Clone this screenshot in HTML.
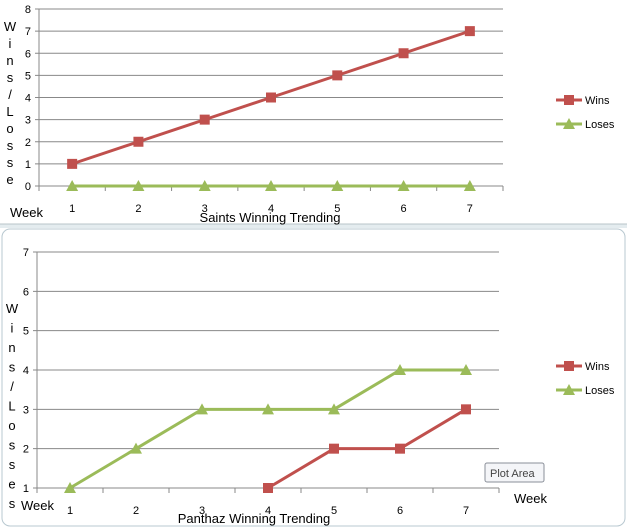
<!DOCTYPE html>
<html><head><meta charset="utf-8"><style>
body{margin:0;width:627px;height:528px;overflow:hidden;background:#fff;font-family:"Liberation Sans",sans-serif}
svg{display:block}
text{font-family:"Liberation Sans",sans-serif}
</style></head><body>
<svg id="s" width="627" height="528">
<rect x="0" y="224" width="627" height="4" fill="#e4ecef"/>
<line x1="0" y1="224" x2="627" y2="224" stroke="#b8c4c8"/>
<rect x="2" y="229" width="623" height="297" rx="8" fill="#fff" stroke="#b8c8d0"/>
<text x="305" y="226" font-size="6" fill="#888">····</text>
</svg>
<script>
const weeks=[1,2,3,4,5,6,7];
const saintsWins=[1,2,3,4,5,6,7];
const saintsLoses=[0,0,0,0,0,0,0];
const saintsTicks=[0,1,2,3,4,5,6,7,8];
const panWins=[null,null,null,1,2,2,3];
const panLoses=[1,2,3,3,3,4,4];
const panTicks=[1,2,3,4,5,6,7];
const NS='http://www.w3.org/2000/svg';
const svg=document.getElementById('s');
function mk(t,a,p){const e=document.createElementNS(NS,t);for(const k in a)e.setAttribute(k,a[k]);(p||svg).appendChild(e);return e;}
function chart(o){
  const g=mk('g',{});
  
  
  const n=weeks.length, cw=(o.x1-o.x0)/n;
  const X=i=>o.x0+cw*(i+0.5);
  const Y=v=>o.yb-(v-o.min)/(o.max-o.min)*(o.yb-o.yt);
  o.ticks.forEach(t=>{
    const l=mk('line',{x1:o.x0-4,x2:o.x1,y1:Y(t),y2:Y(t),stroke:'#888','stroke-width':1},g);
    
    
    const tx=mk('text',{x:o.x0-8,y:Y(t)+4,'font-size':11,'text-anchor':'end',fill:'#000'},g);
    tx.textContent=t;
    
    
  });
  const ax=mk('line',{x1:o.x0,x2:o.x0,y1:o.yt,y2:o.yb,stroke:'#888'},g);
  
  
  for(let i=0;i<=n;i++){const tk=mk('line',{x1:o.x0+cw*i,x2:o.x0+cw*i,y1:o.yb,y2:o.yb+5,stroke:'#888'},g);
    
    }
  weeks.forEach((w,i)=>{const t=mk('text',{x:X(i),y:o.yb+o.lblOff,'font-size':11,'text-anchor':'middle'},g);t.textContent=w;
    
    });
  function series(vals,col,shape,nm){
    let d='';vals.forEach((v,i)=>{if(v==null)return;d+=(d?'L':'M')+X(i)+' '+Y(v);});
    const p=mk('path',{d:d,fill:'none',stroke:col,'stroke-width':3},g);
    
    
    vals.forEach((v,i)=>{if(v==null)return;const x=X(i),y=Y(v);let m;
      if(shape=='sq')m=mk('rect',{x:x-5,y:y-5,width:10,height:10,fill:col},g);
      else m=mk('polygon',{points:`${x},${y-6} ${x+6},${y+5} ${x-6},${y+5}`,fill:col},g);
      
      });
  }
  series(o.loses,'#9bbb59','tri','loses');
  series(o.wins,'#c0504d','sq','wins');
  // legend
  [['Wins','#c0504d','sq',o.legY],['Loses','#9bbb59','tri',o.legY+24]].forEach(([lab,col,sh,y])=>{
    const lg=mk('g',{},g);
    
    
    mk('line',{x1:556,x2:582,y1:y,y2:y,stroke:col,'stroke-width':3},lg);
    if(sh=='sq')mk('rect',{x:564,y:y-5,width:10,height:10,fill:col},lg);
    else mk('polygon',{points:`569,${y-6} 575,${y+5} 563,${y+5}`,fill:col},lg);
    const t=mk('text',{x:585,y:y+4,'font-size':11},lg);t.textContent=lab;
  });
  // vertical title
  const chars=o.ytitle.split('');
  chars.forEach((c,i)=>{const t=mk('text',{x:o.ytx,y:o.yty+i*o.ystep,'font-size':13,'text-anchor':'middle'},g);t.textContent=c;
    
    });
  const wk=mk('text',{x:o.wkx,y:o.wky,'font-size':13},g);wk.textContent='Week';
  
  
  const tt=mk('text',{x:o.tx,y:o.ty,'font-size':13,'text-anchor':'middle'},g);tt.textContent=o.title;
  
  
}
chart({name:'saints-chart',x0:39,x1:503,yt:9,yb:186,min:0,max:8,ticks:saintsTicks,wins:saintsWins,loses:saintsLoses,
  legY:100,ytitle:'Wins/Losse',ytx:10,yty:31,ystep:17,wkx:10,wky:217,tx:270,ty:222,title:'Saints Winning Trending',lblOff:26});
chart({name:'panthaz-chart',x0:37,x1:499,yt:252,yb:488,min:1,max:7,ticks:panTicks,wins:panWins,loses:panLoses,
  legY:366,ytitle:'Wins/Losses',ytx:12,yty:313,ystep:19.5,wkx:21,wky:510,tx:254,ty:523,title:'Panthaz Winning Trending',lblOff:26});
const wk2=mk('text',{x:514,y:503,'font-size':13});wk2.textContent='Week';


const tip=mk('g',{});


mk('rect',{x:485,y:463,width:59,height:19,rx:2,fill:'#f4f5f8',stroke:'#8a8f99'},tip);
const tpt=mk('text',{x:490,y:477,'font-size':11,fill:'#444'},tip);tpt.textContent='Plot Area';
</script>
</body></html>
